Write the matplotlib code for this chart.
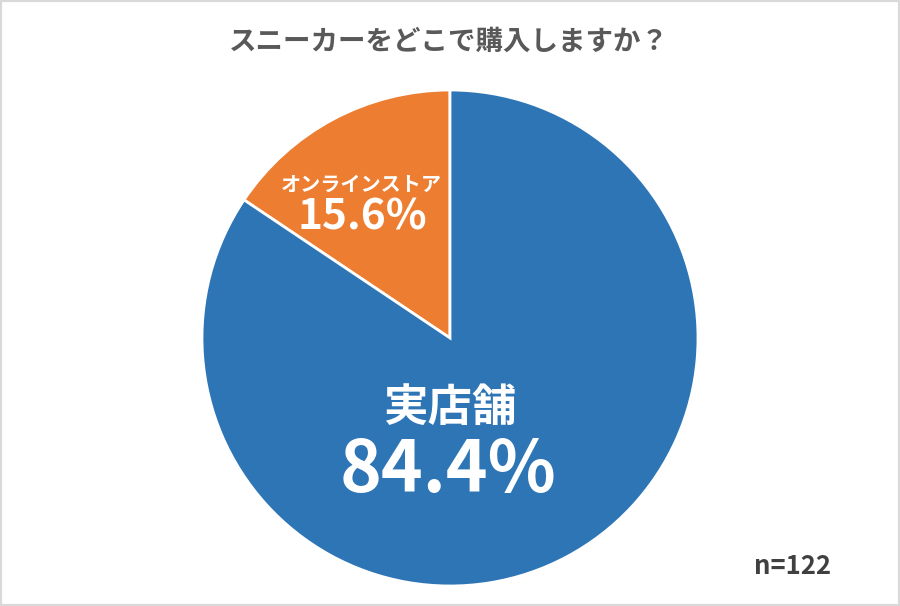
import matplotlib
matplotlib.use("Agg")
import matplotlib.pyplot as plt
from matplotlib.patches import Rectangle

plt.rcParams["font.family"] = ["Noto Sans CJK JP", "DejaVu Sans"]

# ── Data ──────────────────────────────────────────────────────────────────────
title = "スニーカーをどこで購入しますか？"
labels = ["オンラインストア", "実店舗"]
values = [15.6, 84.4]
colors = ["#ED7D31", "#2E75B6"]
n_text = "n=122"

W, H, DPI = 900, 606, 100

fig = plt.figure(figsize=(W / DPI, H / DPI), dpi=DPI, facecolor="white")
ax = fig.add_axes([0, 0, 1, 1])

ax.pie(values, colors=colors, startangle=90, counterclock=True,
       center=(450, H - 338), radius=248, frame=True,
       wedgeprops={"edgecolor": "white", "linewidth": 2})
ax.set_xlim(0, W)
ax.set_ylim(0, H)
ax.set_aspect("equal")
ax.axis("off")

# ── Labels ────────────────────────────────────────────────────────────────────
ax.text(361, H - 184, labels[0], color="white", fontsize=14.5,
        fontweight="bold", ha="center", va="center")
ax.text(362, H - 217, f"{values[0]}%", color="white", fontsize=30.5,
        fontweight="bold", ha="center", va="center")

ax.text(450, H - 408, labels[1], color="white", fontsize=32,
        fontweight="bold", ha="center", va="center")
ax.text(448, H - 471, f"{values[1]}%", color="white", fontsize=51,
        fontweight="bold", ha="center", va="center")

# ── Title & note ──────────────────────────────────────────────────────────────
fig.text(449 / W, 1 - 42 / H, title, color="#595959", fontsize=19.8,
         fontweight="bold", ha="center", va="center")
fig.text(793 / W, 1 - 567 / H, n_text, color="#404040", fontsize=18.5,
         fontweight="bold", ha="center", va="center")

fig.patches.append(Rectangle((0, 0), 1, 1, transform=fig.transFigure,
                             fill=False, edgecolor="#d9d9d9", linewidth=3))

fig.savefig("out.png", dpi=DPI, facecolor="white")
